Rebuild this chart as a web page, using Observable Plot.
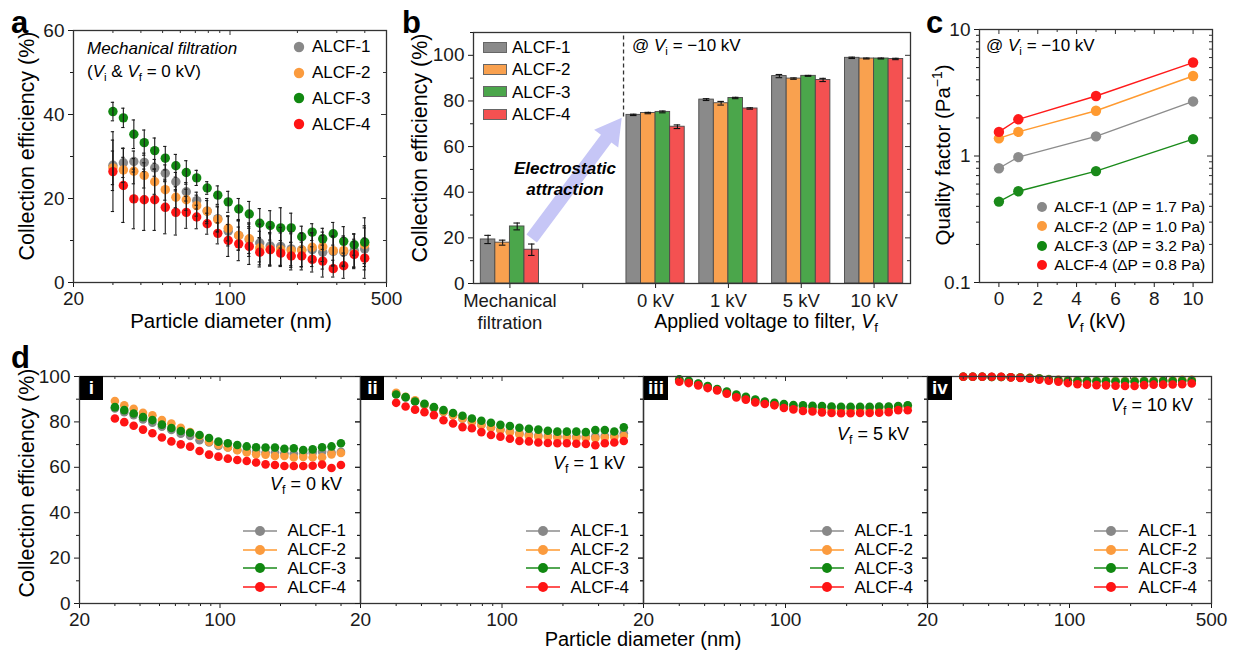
<!DOCTYPE html>
<html>
<head>
<meta charset="utf-8">
<script src="https://cdn.jsdelivr.net/npm/d3@7"></script>
<script src="https://cdn.jsdelivr.net/npm/@observablehq/plot@0.6"></script>
<style>
html,body{margin:0;padding:0;background:#fff;}
#root{position:relative;width:1238px;height:650px;overflow:hidden;font-family:"Liberation Sans",Arial,Helvetica,sans-serif;color:#000;}
.abs{position:absolute;white-space:nowrap;line-height:1;}
.sub{font-size:0.68em;vertical-align:-0.32em;line-height:0;font-style:normal;}
.sup{font-size:0.68em;vertical-align:0.55em;line-height:0;}
.box{position:absolute;background:#000;color:#fff;font-weight:bold;text-align:center;line-height:24px;}
</style>
</head>
<body>
<div id="root"></div>
<script>
// ---------------- DATA ----------------
const series = ["ALCF-1", "ALCF-2", "ALCF-3", "ALCF-4"];
const dotColors = ["#888888", "#fb9b3e", "#118811", "#ff1414"];
const barColors = ["#8a8a8a", "#f9a14f", "#4ba64b", "#f45151"];
const lineColors = ["#8c8c8c", "#ff9a30", "#1a8a1a", "#ff1a1a"];

// particle diameters (nm)
const diam = [30.0, 33.4, 37.2, 41.4, 46.1, 51.4, 57.3, 63.8, 71.0, 79.1, 88.2, 98.2, 109.4,
  121.9, 135.8, 151.2, 168.5, 187.7, 209.1, 232.9, 259.5, 289.1, 322.0, 358.7, 399.6];

// panel a: mechanical filtration efficiency (%) and error half-widths
const a1 = [27.9, 28.5, 28.8, 28.6, 27.3, 26.0, 24.0, 21.6, 19.5, 17.0, 15.2, 12.2, 11.2, 10.2, 9.4, 8.7, 8.6, 8.0, 7.8, 7.8, 7.2, 7.4, 7.3, 7.6, 8.0];
const a2 = [27.3, 26.8, 26.5, 25.5, 24.0, 22.1, 20.3, 19.7, 18.3, 17.0, 15.0, 12.9, 11.2, 10.4, 8.2, 7.9, 7.8, 7.6, 7.7, 8.4, 8.5, 7.6, 7.6, 6.8, 9.0];
const a3 = [40.7, 39.2, 35.3, 33.3, 31.4, 29.6, 27.8, 26.2, 24.9, 22.5, 20.8, 19.2, 17.5, 16.3, 14.1, 13.6, 13.0, 13.0, 10.9, 12.0, 10.4, 11.6, 9.8, 9.0, 9.6];
const a4 = [26.4, 23.1, 19.9, 19.7, 19.7, 17.9, 16.7, 16.7, 15.6, 14.0, 11.7, 10.0, 9.2, 8.6, 7.2, 7.8, 7.0, 6.3, 6.3, 5.5, 5.1, 3.3, 4.0, 6.7, 5.8];
const ae1 = [6.0, 3.5, 2.5, 2.2, 2.0, 2.0, 2.2, 2.2, 2.0, 2.5, 3.0, 3.5, 3.5, 4.0, 4.5, 4.5, 4.5, 4.0, 4.0, 4.0, 4.0, 3.5, 3.5, 4.0, 5.0];
const ae2 = [4.0, 3.0, 3.0, 3.0, 3.0, 2.5, 2.5, 2.5, 2.5, 3.0, 3.0, 3.0, 3.5, 3.5, 4.0, 4.0, 4.0, 4.0, 4.0, 3.5, 3.5, 3.5, 3.5, 3.5, 4.5];
const ae3 = [2.2, 2.3, 3.4, 3.0, 3.0, 2.8, 2.7, 2.8, 1.8, 1.5, 2.2, 2.5, 2.5, 3.0, 3.5, 3.5, 4.8, 3.5, 2.5, 2.0, 2.5, 2.7, 3.5, 2.5, 5.8];
const ae4 = [9.5, 8.8, 7.1, 7.3, 7.3, 6.3, 5.4, 3.8, 2.8, 2.5, 2.5, 3.8, 4.0, 4.3, 3.5, 3.8, 3.0, 3.3, 3.3, 3.0, 3.8, 2.0, 3.0, 3.0, 4.8];

// panel b: bars
const bCats = ["Mechanical\nfiltration", "", "0 kV", "1 kV", "5 kV", "10 kV"];
const b1 = [19.3, null, 73.9, 80.6, 90.9, 98.9];
const b2 = [17.9, null, 74.7, 79.0, 89.8, 98.6];
const b3 = [25.0, null, 75.2, 81.3, 91.0, 98.6];
const b4 = [14.8, null, 68.7, 76.7, 89.2, 98.4];
const be1 = [1.8, null, 0.3, 0.4, 0.7, 0.3];
const be2 = [1.1, null, 0.3, 0.8, 0.3, 0.2];
const be3 = [1.5, null, 0.4, 0.3, 0.2, 0.2];
const be4 = [2.5, null, 0.8, 0.3, 0.7, 0.3];
const arrowFrom = [0.306, 19.5];
const arrowTo = [1.542, 72.4];

// panel c: quality factor
const cV = [0, 1, 5, 10];
const c1 = [0.80, 0.98, 1.43, 2.70];
const c2 = [1.38, 1.55, 2.28, 4.29];
const c3 = [0.436, 0.526, 0.76, 1.36];
const c4 = [1.55, 1.95, 2.98, 5.48];
const cLegend = ["ALCF-1 (ΔP = 1.7 Pa)", "ALCF-2 (ΔP = 1.0 Pa)", "ALCF-3 (ΔP = 3.2 Pa)", "ALCF-4 (ΔP = 0.8 Pa)"];

// panel d: efficiency at Vf = 0, 1, 5, 10 kV
const dNames = ["i", "ii", "iii", "iv"];
const dLabels = ["0", "1", "5", "10"];
const d0_1 = [85.9, 84.3, 83.0, 81.1, 79.6, 77.9, 76.4, 74.8, 73.8, 71.9, 70.9, 69.4, 68.7, 67.6, 67.2, 66.8, 66.5, 66.5, 66.2, 66.0, 66.2, 66.5, 66.8, 66.5, 66.8];
const d0_2 = [89.2, 87.3, 85.8, 84.0, 82.9, 80.8, 79.3, 77.4, 75.5, 73.8, 71.3, 70.0, 68.7, 67.5, 66.5, 65.7, 65.6, 65.0, 65.0, 64.3, 64.6, 64.4, 64.4, 65.7, 66.3];
const d0_3 = [86.5, 85.2, 83.7, 82.1, 80.8, 78.8, 77.3, 76.0, 75.2, 74.2, 72.9, 71.3, 70.6, 69.8, 69.2, 68.8, 68.7, 68.7, 68.2, 68.4, 67.6, 67.9, 68.8, 69.2, 70.6];
const d0_4 = [81.5, 79.9, 78.3, 76.6, 75.0, 73.1, 71.4, 70.1, 69.1, 67.2, 65.6, 64.7, 63.8, 63.2, 62.8, 62.1, 61.3, 61.0, 60.6, 60.6, 60.6, 60.7, 61.2, 59.7, 61.0];
const d1_1 = [92.5, 90.8, 89.2, 87.5, 86.0, 84.4, 82.9, 81.4, 80.0, 78.7, 77.6, 76.6, 75.8, 75.0, 74.4, 74.0, 73.8, 73.7, 73.6, 73.6, 73.6, 73.7, 73.9, 74.0, 75.0];
const d1_2 = [92.8, 91.1, 89.5, 87.7, 86.2, 84.5, 83.0, 81.5, 80.1, 78.6, 77.4, 76.4, 75.4, 74.5, 73.8, 73.5, 73.3, 73.1, 73.1, 72.9, 72.9, 72.8, 73.1, 73.3, 73.8];
const d1_3 = [92.1, 90.9, 89.0, 88.0, 86.5, 85.2, 83.9, 82.7, 81.5, 80.5, 79.6, 78.7, 78.2, 77.4, 77.0, 76.6, 76.1, 75.7, 75.7, 75.7, 75.5, 76.4, 76.4, 75.8, 77.6];
const d1_4 = [88.4, 86.8, 85.4, 84.3, 83.0, 80.7, 79.3, 77.7, 77.2, 75.5, 74.2, 73.5, 72.6, 71.6, 71.4, 70.9, 70.7, 70.6, 70.6, 70.4, 70.3, 69.7, 70.6, 70.9, 71.6];
const d5_1 = [98.5, 97.9, 96.8, 95.6, 94.3, 93.1, 91.7, 90.7, 89.6, 88.7, 88.0, 87.4, 86.9, 86.7, 86.5, 86.4, 86.3, 86.2, 86.2, 86.2, 86.3, 86.4, 86.5, 86.8, 87.2];
const d5_2 = [98.3, 97.6, 96.5, 95.3, 94.2, 92.8, 91.3, 90.4, 89.2, 88.4, 87.8, 86.9, 86.3, 85.8, 85.6, 85.3, 85.0, 84.9, 84.9, 85.0, 85.0, 85.2, 85.5, 86.0, 86.8];
const d5_3 = [98.8, 98.1, 96.9, 95.8, 94.5, 93.4, 92.0, 91.1, 89.9, 89.0, 88.4, 87.9, 87.4, 87.3, 87.1, 87.0, 86.8, 86.7, 86.7, 86.7, 86.7, 86.8, 86.8, 87.0, 87.3];
const d5_4 = [97.7, 97.1, 96.1, 94.9, 93.9, 92.4, 90.8, 89.8, 88.6, 87.9, 87.3, 86.1, 85.5, 84.8, 84.6, 84.2, 83.9, 83.8, 83.8, 83.9, 83.9, 84.0, 84.3, 85.2, 85.1];
const d10_1 = [99.9, 99.9, 99.9, 99.8, 99.8, 99.7, 99.6, 99.4, 99.2, 98.9, 98.6, 98.4, 98.3, 98.2, 98.2, 98.1, 98.1, 98.0, 98.0, 98.1, 98.1, 98.2, 98.2, 98.3, 98.4];
const d10_2 = [99.9, 99.9, 99.9, 99.8, 99.8, 99.7, 99.6, 99.4, 99.1, 98.8, 98.5, 98.3, 98.2, 98.1, 98.0, 98.0, 97.9, 97.9, 97.9, 98.0, 98.1, 98.2, 98.4, 98.5, 98.6];
const d10_3 = [99.9, 99.9, 99.9, 99.8, 99.8, 99.7, 99.5, 99.3, 99.1, 98.7, 98.3, 98.1, 98.0, 98.0, 97.9, 97.9, 97.8, 97.8, 97.8, 97.9, 97.9, 98.0, 98.0, 98.1, 98.1];
const d10_4 = [99.9, 99.9, 99.9, 99.9, 99.9, 99.6, 99.4, 99.0, 98.6, 98.1, 97.7, 97.1, 96.6, 96.4, 96.2, 96.1, 95.9, 95.8, 95.8, 96.2, 96.4, 96.4, 96.5, 96.6, 96.9];

// tick values
const logMajor = [20, 100, 500];
const logMinor = [30, 40, 50, 60, 70, 80, 90, 200, 300, 400];
const aYMajor = [0, 20, 40, 60], aYMinor = [10, 30, 50];
const bYMajor = [0, 20, 40, 60, 80, 100], bYMinor = [10, 30, 50, 70, 90, 110];
const cXMajor = [0, 2, 4, 6, 8, 10], cXMinor = [1, 3, 5, 7, 9];
const cYMajor = [0.1, 1, 10], cYMinor = [0.2, 0.3, 0.4, 0.5, 0.6, 0.7, 0.8, 0.9, 2, 3, 4, 5, 6, 7, 8, 9];
const dYMajor = [0, 20, 40, 60, 80, 100], dYMinor = [10, 30, 50, 70, 90];

// ---------------- HELPERS ----------------
const FONT = '"Liberation Sans", Arial, Helvetica, sans-serif';
const root = document.getElementById("root");
const SUBV = (s) => `<i>V</i><span class="sub">${s}</span>`;

function T(html, x, base, fs, anchor = "start", extra = "") {
  const d = document.createElement("div");
  d.className = "abs";
  d.innerHTML = html;
  d.style.cssText += `left:${x}px;top:${base - 0.8465 * fs}px;font-size:${fs}px;${extra}`;
  if (anchor === "middle") d.style.transform = "translateX(-50%)";
  if (anchor === "end") d.style.transform = "translateX(-100%)";
  root.appendChild(d);
  return d;
}
function R(html, cx, cy, fs) {
  const d = document.createElement("div");
  d.className = "abs";
  d.innerHTML = html;
  d.style.cssText += `left:${cx}px;top:${cy}px;font-size:${fs}px;transform:translate(-50%,-50%) rotate(-90deg);`;
  root.appendChild(d);
}
function svgEl(left, top, w, h, inner) {
  const d = document.createElement("div");
  d.className = "abs";
  d.style.left = left + "px"; d.style.top = top + "px";
  d.innerHTML = `<svg width="${w}" height="${h}" style="display:block;overflow:visible">${inner}</svg>`;
  root.appendChild(d);
}
function place(svg, left, top) {
  svg.style.position = "absolute";
  svg.style.left = left + "px";
  svg.style.top = top + "px";
  root.appendChild(svg);
}
function st(fs) {
  return {fontFamily: FONT, fontSize: fs + "px", background: "transparent", overflow: "visible", color: "#1a1a1a"};
}
const FR = "#333";
// frame, ticks (outward bottom/left, inward top/right) and tick labels
function chrome(o) {
  const m = [];
  // bottom ticks; labels drawn as text marks so that log scales keep every label
  m.push(Plot.axisX(o.xMajor, {anchor: "bottom", tickSize: 5, tickFormat: () => "", label: null}));
  if (o.xMinor) m.push(Plot.axisX(o.xMinor, {anchor: "bottom", tickSize: 3, tickFormat: () => "", label: null}));
  if (o.xLabels) m.push(Plot.text(o.xLabels, {x: d => d, text: o.xFmt, frameAnchor: "bottom", dy: 9, lineAnchor: "top", fontSize: 19, fill: "#1a1a1a"}));
  m.push(Plot.axisY(o.yMajor, {anchor: "left", tickSize: 5, tickPadding: 4, tickFormat: o.yFmt, label: null}));
  if (o.yMinor) m.push(Plot.axisY(o.yMinor, {anchor: "left", tickSize: 3, tickFormat: () => "", label: null}));
  if (o.top) {
    m.push(Plot.tickX(o.xMajor, {x: d => d, insetBottom: o.fh - 5, stroke: FR}));
    if (o.xMinor) m.push(Plot.tickX(o.xMinor, {x: d => d, insetBottom: o.fh - 3, stroke: FR}));
  }
  if (o.right) {
    m.push(Plot.tickY(o.yMajor, {y: d => d, insetLeft: o.fw - 5, stroke: FR}));
    if (o.yMinor) m.push(Plot.tickY(o.yMinor, {y: d => d, insetLeft: o.fw - 3, stroke: FR}));
  }
  m.push(Plot.frame({stroke: FR, strokeWidth: 1.3}));
  return m;
}

// ---------------- PANEL a ----------------
{
  const vals = [a1, a2, a3, a4], errs = [ae1, ae2, ae3, ae4];
  const data = vals.flatMap((v, k) => v.map((y, i) => ({s: series[k], d: diam[i], v: y, e: errs[k][i]})));
  const W = 400, H = 330, mL = 73, mR = 14, mT = 30, mB = 48;
  const p = Plot.plot({
    width: W, height: H, marginLeft: mL, marginRight: mR, marginTop: mT, marginBottom: mB,
    style: st(19),
    x: {type: "log", domain: [20, 500]},
    y: {domain: [0, 60]},
    color: {domain: series, range: dotColors},
    marks: [
      Plot.dot(data, {x: "d", y: "v", fill: "s", r: 4.7}),
      Plot.ruleX(data, {x: "d", y1: d => Math.max(0, d.v - d.e), y2: d => d.v + d.e, stroke: "#1a1a1a", strokeWidth: 1.1}),
      Plot.ruleY(data, {y: d => d.v + d.e, x1: d => d.d / 1.017, x2: d => d.d * 1.017, stroke: "#1a1a1a", strokeWidth: 1.1}),
      Plot.ruleY(data, {y: d => Math.max(0, d.v - d.e), x1: d => d.d / 1.017, x2: d => d.d * 1.017, stroke: "#1a1a1a", strokeWidth: 1.1}),
      ...chrome({fw: W - mL - mR, fh: H - mT - mB, xMajor: logMajor, xMinor: logMinor, xLabels: logMajor, yMajor: aYMajor, yMinor: aYMinor,
        xFmt: d => String(d), yFmt: d => String(d), top: true, right: true})
    ]
  });
  place(p, 0, 0);
  T("a", 11, 33, 31, "start", "font-weight:bold");
  T("<i>Mechanical filtration</i>", 87, 54, 17);
  T(`(${SUBV("i")} &amp; ${SUBV("f")} = 0 kV)`, 87, 77, 17);
  const rows = [46.7, 72.7, 98.3, 124];
  series.forEach((s, k) => {
    svgEl(299 - 6, rows[k] - 6, 12, 12, `<circle cx="6" cy="6" r="5.2" fill="${dotColors[k]}"/>`);
    T(s, 312, rows[k] + 6.1, 17);
  });
  T("Particle diameter (nm)", 231, 328, 20.5, "middle");
  R("Collection efficiency (%)", 28, 146, 21.5);
}

// ---------------- PANEL b ----------------
{
  const vals = [b1, b2, b3, b4], errs = [be1, be2, be3, be4];
  const data = vals.flatMap((v, k) => v.map((y, i) => ({k, s: series[k], i, v: y, e: errs[k][i]}))).filter(d => d.v != null);
  const W = 520, H = 330, mL = 73, mR = 10, mT = 32, mB = 47;
  const p = Plot.plot({
    width: W, height: H, marginLeft: mL, marginRight: mR, marginTop: mT, marginBottom: mB,
    style: st(19),
    x: {domain: [-0.5, bCats.length - 0.5]},
    y: {domain: [0, 110]},
    color: {domain: series, range: barColors},
    marks: [
      Plot.rect(data, {x1: d => d.i - 0.4 + d.k * 0.2, x2: d => d.i - 0.2 + d.k * 0.2, y1: 0, y2: "v", fill: "s", stroke: "#4a4a4a", strokeWidth: 0.9}),
      Plot.ruleX(data, {x: d => d.i - 0.3 + d.k * 0.2, y1: d => d.v - d.e, y2: d => d.v + d.e, stroke: "#111", strokeWidth: 1.1}),
      Plot.ruleY(data, {y: d => d.v + d.e, x1: d => d.i - 0.345 + d.k * 0.2, x2: d => d.i - 0.255 + d.k * 0.2, stroke: "#111", strokeWidth: 1.1}),
      Plot.ruleY(data, {y: d => d.v - d.e, x1: d => d.i - 0.345 + d.k * 0.2, x2: d => d.i - 0.255 + d.k * 0.2, stroke: "#111", strokeWidth: 1.1}),
      Plot.ruleX([1.56], {x: d => d, y1: 73, y2: 110, stroke: "#333", strokeWidth: 1.3, strokeDasharray: "4,3"}),
      Plot.text(bCats.map((c, i) => ({c, i})), {x: "i", text: "c", frameAnchor: "bottom", dy: 7, lineAnchor: "top", lineHeight: 1.22, fontSize: 18.5, fill: "#1a1a1a"}),
      ...chrome({fw: W - mL - mR, fh: H - mT - mB, xMajor: bCats.map((c, i) => i), xMinor: null, xLabels: null, yMajor: bYMajor, yMinor: bYMinor,
        xFmt: () => "", yFmt: d => String(d), top: false, right: true})
    ]
  });
  // electrostatic arrow, positioned through the panel's own scales
  const sx = p.scale("x"), sy = p.scale("y");
  const x1 = sx.apply(arrowFrom[0]), y1 = sy.apply(arrowFrom[1]);
  const x2 = sx.apply(arrowTo[0]), y2 = sy.apply(arrowTo[1]);
  const L = Math.hypot(x2 - x1, y2 - y1), ux = (x2 - x1) / L, uy = (y2 - y1) / L, px = -uy, py = ux;
  const hw = 6.5, hh = 15, hl = 26;
  const bx = x2 - ux * hl, by = y2 - uy * hl;
  const pts = [[x1 + px * hw, y1 + py * hw], [bx + px * hw, by + py * hw], [bx + px * hh, by + py * hh], [x2, y2],
    [bx - px * hh, by - py * hh], [bx - px * hw, by - py * hw], [x1 - px * hw, y1 - py * hw]];
  d3.select(p).insert("polygon", "g").attr("points", pts.map(q => q.join(",")).join(" ")).attr("fill", "#c6c6f6");
  place(p, 400, 0);
  T("b", 402, 33, 31, "start", "font-weight:bold");
  R("Collection efficiency (%)", 421, 148, 21.5);
  const rows = [47.3, 69.5, 91.8, 114.2];
  series.forEach((s, k) => {
    const d = document.createElement("div");
    d.className = "abs";
    d.style.cssText += `left:482.7px;top:${rows[k] - 5.5}px;width:24px;height:11px;background:${barColors[k]};box-sizing:border-box;border:0.8px solid #666;`;
    root.appendChild(d);
    T(s, 512, rows[k] + 6.1, 17);
  });
  T(`@ ${SUBV("i")} = −10 kV`, 632, 51.7, 17);
  T("<b><i>Electrostatic</i></b>", 565, 174.5, 17, "middle");
  T("<b><i>attraction</i></b>", 565, 195, 17, "middle");
  T(`Applied voltage to filter, ${SUBV("f")}`, 766, 328.5, 19.5, "middle");
}

// ---------------- PANEL c ----------------
{
  const vals = [c1, c2, c3, c4];
  const data = vals.flatMap((v, k) => v.map((q, i) => ({s: series[k], v: cV[i], q})));
  const W = 338, H = 330, mL = 79, mR = 26, mT = 29, mB = 48;
  const p = Plot.plot({
    width: W, height: H, marginLeft: mL, marginRight: mR, marginTop: mT, marginBottom: mB,
    style: st(19),
    x: {domain: [-1, 11]},
    y: {type: "log", domain: [0.1, 10]},
    color: {domain: series, range: lineColors},
    marks: [
      Plot.line(data, {x: "v", y: "q", z: "s", stroke: "s", strokeWidth: 1.4}),
      Plot.dot(data, {x: "v", y: "q", fill: "s", r: 5.2}),
      ...chrome({fw: W - mL - mR, fh: H - mT - mB, xMajor: cXMajor, xMinor: cXMinor, xLabels: cXMajor, yMajor: cYMajor, yMinor: cYMinor,
        xFmt: d => String(d), yFmt: d => String(d), top: true, right: true})
    ]
  });
  place(p, 900, 0);
  T("c", 926, 33, 31, "start", "font-weight:bold");
  T(`@ ${SUBV("i")} = −10 kV`, 986, 51.7, 17);
  R(`Quality factor (Pa<span class="sup">−1</span>)`, 943, 155, 20.5);
  T(`${SUBV("f")} (kV)`, 1096, 327.5, 20, "middle");
  const rows = [207, 226.3, 245.7, 265];
  cLegend.forEach((s, k) => {
    svgEl(1042.3 - 6, rows[k] - 6, 12, 12, `<circle cx="6" cy="6" r="5" fill="${dotColors[k]}"/>`);
    T(s, 1054.3, rows[k] + 5.6, 15.5);
  });
}

// ---------------- PANEL d ----------------
{
  const dSets = [[d0_1, d0_2, d0_3, d0_4], [d1_1, d1_2, d1_3, d1_4], [d5_1, d5_2, d5_3, d5_4], [d10_1, d10_2, d10_3, d10_4]];
  const frames = [[79, 360], [360, 643], [643, 927], [927, 1211]];
  const vfBase = [490, 469, 440, 411.7];
  const top = 360, H = 280, mT = 16, mB = 37, mL = 60, mR = 30;
  dSets.forEach((set, j) => {
    const [fl, fr] = frames[j];
    const fw = fr - fl, W = fw + mL + mR;
    const data = set.flatMap((v, k) => v.map((y, i) => ({s: series[k], d: diam[i], v: y})));
    const p = Plot.plot({
      width: W, height: H, marginLeft: mL, marginRight: mR, marginTop: mT, marginBottom: mB,
      style: st(19),
      x: {type: "log", domain: [20, 500]},
      y: {domain: [0, 100]},
      color: {domain: series, range: dotColors},
      marks: [
        Plot.dot(data, {x: "d", y: "v", fill: "s", r: 4.3}),
        ...chrome({fw, fh: H - mT - mB, xMajor: logMajor, xMinor: logMinor,
          xLabels: j < 3 ? logMajor.filter(t => t !== 500) : logMajor,
          yMajor: dYMajor, yMinor: dYMinor,
          xFmt: d => String(d), yFmt: d => j === 0 ? String(d) : "", top: true, right: true})
      ]
    });
    place(p, fl - mL, top);
    // roman numeral tag
    const b = document.createElement("div");
    b.className = "box";
    b.style.cssText += `left:${fl + 1}px;top:${top + mT}px;width:${j >= 2 ? 24 : 23}px;height:24px;font-size:19px;`;
    b.textContent = dNames[j];
    root.appendChild(b);
    T(`${SUBV("f")} = ${dLabels[j]} kV`, fr - 18, vfBase[j], 18, "end");
    const rows = [530.7, 549.5, 568.2, 587.3];
    series.forEach((s, k) => {
      svgEl(fr - 117, rows[k] - 6, 34, 12,
        `<line x1="0" y1="6" x2="34" y2="6" stroke="${lineColors[k]}" stroke-width="1.6"/><circle cx="17" cy="6" r="5" fill="${dotColors[k]}"/>`);
      T(s, fr - 72.5, rows[k] + 6.1, 17);
    });
  });
  T("d", 11, 368, 31, "start", "font-weight:bold");
  R("Collection efficiency (%)", 28, 483, 21.5);
  T("Particle diameter (nm)", 643, 646, 20, "middle");
}
</script>
</body>
</html>
